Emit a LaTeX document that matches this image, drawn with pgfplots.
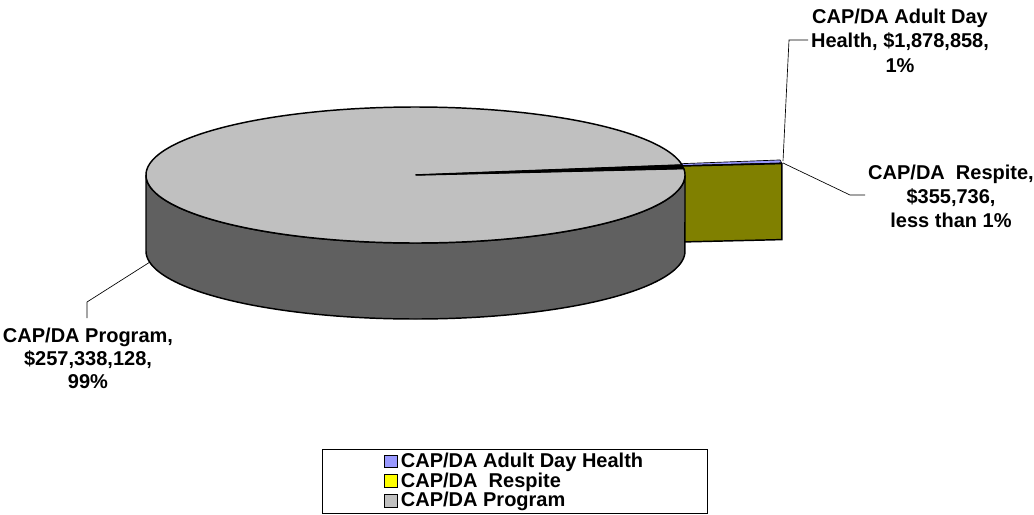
\documentclass[border=0pt]{standalone}
\usepackage{pgfplots}
\usepackage{pgfplotstable}
\pgfplotsset{compat=1.18}
\usepackage{fontspec}
\setmainfont{Liberation Sans}
\definecolor{topgray}{HTML}{C0C0C0}
\definecolor{sidegray}{HTML}{606060}
\definecolor{adhblue}{HTML}{9999FF}
\definecolor{respyel}{HTML}{FFFF00}
\definecolor{respolive}{HTML}{808000}

\pgfplotstableread{
name value
ADH 1878858
Respite 355736
Program 257338128
}\piedata
\pgfplotstablegetelem{0}{value}\of\piedata \let\vA\pgfplotsretval
\pgfplotstablegetelem{1}{value}\of\piedata \let\vB\pgfplotsretval
\pgfplotstablegetelem{2}{value}\of\piedata \let\vC\pgfplotsretval

% geometry of the 3-D pie (pixel units)
\def\cx{415.5}\def\cy{175}\def\rx{269.5}\def\ry{68}\def\dep{76}
\def\ex{513.5}\def\ey{170}
\def\sR{5.4}
\edef\eR{\fpeval{\sR+360*\vB/(\vA+\vB+\vC)}}
\edef\eA{\fpeval{\eR+360*\vA/(\vA+\vB+\vC)}}
\edef\eP{\fpeval{\sR+360}}
\edef\rimx{\fpeval{\ex+\rx*cosd(\sR)}}
\edef\rimy{\fpeval{\ey-\ry*sind(\sR)}}
\edef\rimyb{\fpeval{\ey-\ry*sind(\sR)+\dep}}
\edef\eyb{\fpeval{\ey+\dep}}

\begin{document}
\begin{tikzpicture}
\begin{axis}[
  scale only axis, width=775.5pt, height=385.5pt,
  xmin=0, xmax=1034, ymin=0, ymax=514, y dir=reverse,
  hide axis, clip=false,
  legend style={at={(axis cs:515,481)}, anchor=center, draw=black, line width=0.6pt,
    font=\bfseries\fontsize{15}{14}\selectfont, inner xsep=46pt, inner ysep=1pt,
    row sep=-1.6pt, cells={anchor=west}},
  legend cell align=left,
  legend image code/.code={\draw[#1, line width=0.6pt] (0pt,-4.8pt) rectangle (10pt,4.8pt);},
]
% exploded slices: top faces
\addplot[fill=adhblue, draw=black, line width=0.5pt, domain=\eR:\eA, samples=20, variable=\t, forget plot]
  ({\ex+\rx*cos(\t)},{\ey-\ry*sin(\t)}) -- (axis cs:\ex,\ey) -- cycle;
\addplot[fill=respyel, draw=black, line width=0.5pt, domain=\sR:\eR, samples=10, variable=\t, forget plot]
  ({\ex+\rx*cos(\t)},{\ey-\ry*sin(\t)}) -- (axis cs:\ex,\ey) -- cycle;
% exploded Respite radial face
\addplot[fill=respolive, draw=black, line width=1.1pt, forget plot]
  coordinates {(\ex,\ey) (\rimx,\rimy) (\rimx,\rimyb) (\ex,\eyb)} -- cycle;
% main pie side
\addplot[fill=sidegray, draw=black, line width=1.1pt, domain=180:540, samples=361, variable=\t, forget plot]
  ({\cx+\rx*cos(\t)},{\cy-\ry*sin(\t)+(\t>360)*(\dep+2*\ry*sin(\t))}) -- cycle;
% main pie top (Program)
\addplot[fill=topgray, draw=black, line width=1.1pt, domain=\eA:\eP, samples=300, variable=\t, forget plot]
  ({\cx+\rx*cos(\t)},{\cy-\ry*sin(\t)}) -- (axis cs:\cx,\cy) -- cycle;
% gap left by exploded slices
\addplot[fill=black, draw=black, line width=0.6pt, domain=\sR:\eA, samples=10, variable=\t, forget plot]
  ({\cx+\rx*cos(\t)},{\cy-\ry*sin(\t)}) -- (axis cs:\cx,\cy) -- cycle;
% leader lines
\addplot[black, line width=0.5pt, forget plot] coordinates {(150,262) (87,302) (87,318)};
\addplot[black, line width=0.5pt, forget plot] coordinates {(783,161) (789,40) (808,40)};
\addplot[black, line width=0.5pt, forget plot] coordinates {(783,163) (850,195) (865,195)};
% labels
\node[align=center, font=\bfseries\fontsize{15}{18.4}\selectfont] at (axis cs:900,40.5)
  {CAP/DA Adult Day\\Health, \$1,878,858,\\1\%};
\node[align=center, font=\bfseries\fontsize{15}{18}\selectfont] at (axis cs:951,196)
  {CAP/DA\ \ Respite,\\\$355,736,\\less than 1\%};
\node[align=center, font=\bfseries\fontsize{15}{17.3}\selectfont] at (axis cs:88,358)
  {CAP/DA Program,\\\$257,338,128,\\99\%};
% legend
\addlegendimage{fill=adhblue, draw=black}
\addlegendentry{CAP/DA Adult Day Health}
\addlegendimage{fill=respyel, draw=black}
\addlegendentry{CAP/DA\ \ Respite}
\addlegendimage{fill=topgray, draw=black}
\addlegendentry{CAP/DA Program}
\coordinate (SW) at (axis cs:0,514);
\coordinate (NE) at (axis cs:1034,0);
\end{axis}
\pgfresetboundingbox
\path (SW) rectangle (NE);
\end{tikzpicture}
\end{document}
